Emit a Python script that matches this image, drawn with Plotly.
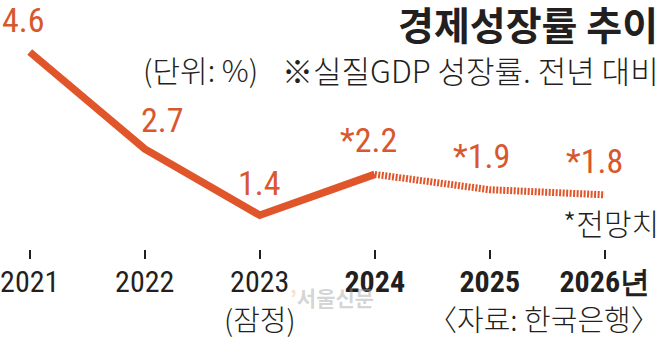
import plotly.graph_objects as go

years = [2021, 2022, 2023, 2024, 2025, 2026]
growth = [4.6, 2.7, 1.4, 2.2, 1.9, 1.8]
value_labels = ["4.6", "2.7", "1.4", "*2.2", "*1.9", "*1.8"]
tick_labels = ["2021", "2022", "2023", "<b>2024</b>", "<b>2025</b>", "<b>2026년</b>"]

ORANGE = "#E0562A"
LABEL = "#D8582E"
DARK = "#231F20"
NUM_FONT = "Roboto Condensed, DejaVu Sans Condensed, sans-serif"
KR_FONT = "Noto Sans CJK KR, Noto Sans, sans-serif"

PLOT_BOTTOM = 249  # pixel row of plot-area bottom


def py(pix):
    """paper y for a pixel row (plot area spans rows 0..PLOT_BOTTOM)"""
    return (PLOT_BOTTOM - pix) / PLOT_BOTTOM


fig = go.Figure()
# actual (solid)
fig.add_trace(go.Scatter(x=years[:4], y=growth[:4], mode="lines",
                         line=dict(color=ORANGE, width=7.5), hoverinfo="skip"))
# forecast (hatched)
fig.add_trace(go.Scatter(x=years[3:], y=growth[3:], mode="lines",
                         line=dict(color=ORANGE, width=7, dash="2px,1.5px"), hoverinfo="skip"))

label_shift = [(-6, 32), (18, 29), (0, 32), (-6, 34), (-8, 34), (-10, 34)]
for x, y, t, (dx, dy) in zip(years, growth, value_labels, label_shift):
    fig.add_annotation(x=x, y=y, text=t, showarrow=False, xshift=dx, yshift=dy,
                       font=dict(family=NUM_FONT, size=34, color=LABEL))

fig.add_annotation(xref="paper", yref="paper", x=1.0, y=py(23), xanchor="right", yanchor="middle",
                   xshift=0, borderpad=0, text="<b>경제성장률 추이</b>", showarrow=False,
                   font=dict(family=KR_FONT, size=39, color=DARK))
fig.add_annotation(xref="paper", yref="paper", x=140 / 659, y=py(69), xanchor="left", yanchor="middle",
                   xshift=-5, text="(단위: %)", showarrow=False,
                   font=dict(family=KR_FONT, size=30, color=DARK, weight=300))
fig.add_annotation(xref="paper", yref="paper", x=1.0, y=py(69), xanchor="right", yanchor="middle",
                   xshift=2, text="※실질GDP 성장률. 전년 대비", showarrow=False,
                   font=dict(family=KR_FONT, size=31, color=DARK, weight=300))
fig.add_annotation(xref="paper", yref="paper", x=1.0, y=py(222), xanchor="right", yanchor="middle",
                   xshift=2, text="*전망치", showarrow=False,
                   font=dict(family=KR_FONT, size=30, color=DARK, weight=300))
fig.add_annotation(x=2023, xref="x", yref="paper", y=py(318), yanchor="middle", borderpad=0,
                   text="(잠정)", showarrow=False,
                   font=dict(family=KR_FONT, size=29, color=DARK, weight=300))
fig.add_annotation(xref="paper", yref="paper", x=1.0, y=py(318), xanchor="right", yanchor="middle",
                   xshift=2, borderpad=0, text="〈자료: 한국은행〉", showarrow=False,
                   font=dict(family=KR_FONT, size=29, color=DARK, weight=300))
fig.add_annotation(xref="paper", yref="paper", x=283 / 659, y=py(297), xanchor="left", yanchor="middle",
                   text="<span style='color:#F3B58C'>’</span>서울신문", showarrow=False,
                   font=dict(family=KR_FONT, size=21, color="rgba(160,160,160,0.45)", weight=700))

fig.update_layout(
    width=659, height=339,
    margin=dict(l=0, r=0, t=0, b=339 - PLOT_BOTTOM),
    paper_bgcolor="white", plot_bgcolor="white",
    showlegend=False,
    xaxis=dict(range=[2020.811, 2026.472], tickvals=years, ticktext=tick_labels,
               ticks="outside", ticklen=9, tickwidth=1.6, tickcolor=DARK,
               ticklabeloverflow="allow", ticklabelstandoff=-3,
               showgrid=False, zeroline=False, showline=False,
               tickfont=dict(family=NUM_FONT, size=30, color=DARK), fixedrange=True),
    yaxis=dict(range=[4.6 - (PLOT_BOTTOM - 52) / 51, 4.6 + 52 / 51], visible=False, fixedrange=True),
)

fig.write_html("out.html")
